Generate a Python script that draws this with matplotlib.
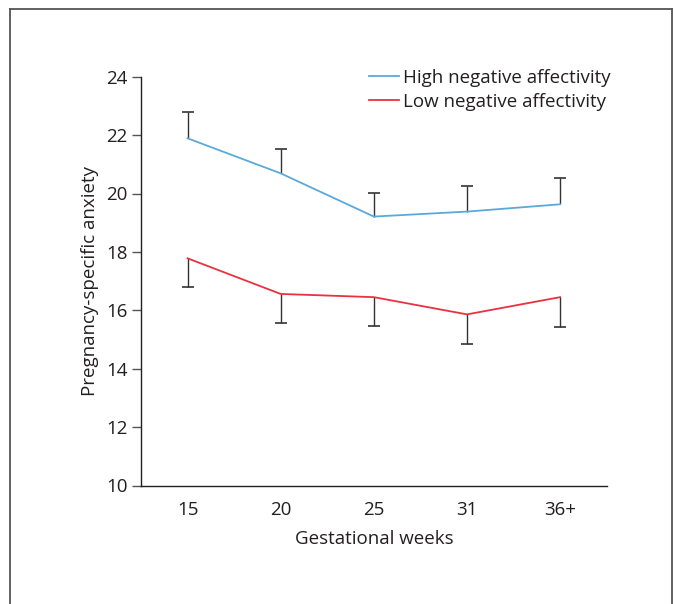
import numpy as np
import matplotlib.pyplot as plt
from matplotlib.lines import Line2D

plt.rcParams['font.family'] = ['Open Sans', 'DejaVu Sans']

weeks = ['15', '20', '25', '31', '36+']
high_na = [21.89, 20.69, 19.21, 19.38, 19.63]
high_err = [0.91, 0.84, 0.80, 0.89, 0.91]
low_na = [17.78, 16.56, 16.45, 15.86, 16.45]
low_err = [0.99, 0.99, 0.98, 1.01, 1.01]

text_col = '#231f20'
blue = '#5aa9db'
red = '#e8323f'
fs = 13.5

fig = plt.figure(figsize=(6.74, 6.04), dpi=100)
ax = fig.add_axes([141 / 674, 1 - 485.5 / 604, (606.7 - 141) / 674, (485.5 - 76.7) / 604])

x = np.arange(len(weeks))
hi = np.array(high_na)
lo = np.array(low_na)
he = np.array(high_err)
le = np.array(low_err)
zeros = np.zeros(len(weeks))

# one-sided error bars: up for high NA, down for low NA
ax.errorbar(x, hi, yerr=[zeros, he], fmt='none', ecolor='#333333', elinewidth=1.0, capsize=0, zorder=2)
ax.plot(x, hi + he, ls='none', marker='_', ms=9, mew=1.2, color='#333333', zorder=2)
ax.errorbar(x, lo, yerr=[le, zeros], fmt='none', ecolor='#333333', elinewidth=1.0, capsize=0, zorder=2)
ax.plot(x, lo - le, ls='none', marker='_', ms=9, mew=1.2, color='#333333', zorder=2)

ax.plot(x, hi, color=blue, lw=1.3, label='High negative affectivity', zorder=3)
ax.plot(x, lo, color=red, lw=1.3, label='Low negative affectivity', zorder=3)

ax.set_xlim(-0.5, 4.5)
ax.set_ylim(10, 24)
ax.set_xticks(x)
ax.set_xticklabels(weeks)
ax.set_yticks(np.arange(10, 25, 2))

for s in ['top', 'right']:
    ax.spines[s].set_visible(False)
for s in ['left', 'bottom']:
    ax.spines[s].set_color(text_col)
    ax.spines[s].set_linewidth(1.0)

ax.tick_params(axis='y', direction='out', length=6.5, width=1.0, color='#555555',
               labelsize=fs, labelcolor=text_col, pad=3)
ax.tick_params(axis='x', length=0, labelsize=fs, labelcolor=text_col, pad=11)

ax.set_xlabel('Gestational weeks', fontsize=fs, color=text_col, labelpad=8)
ax.set_ylabel('Pregnancy-specific anxiety', fontsize=fs, color=text_col, labelpad=5)

ax.legend(loc='upper left', bbox_to_anchor=(369 / 674, 1 - 69 / 604), bbox_transform=fig.transFigure,
          frameon=False, fontsize=fs, handlelength=1.6, handletextpad=0.2, borderpad=0,
          borderaxespad=0, labelspacing=0.3, labelcolor=text_col)

# open frame around the figure
frame_kw = dict(color='#555555', lw=1.3, transform=fig.transFigure)
fig.add_artist(Line2D([10 / 674, 10 / 674], [0, 1 - 9 / 604], **frame_kw))
fig.add_artist(Line2D([10 / 674, 672 / 674], [1 - 9 / 604, 1 - 9 / 604], **frame_kw))
fig.add_artist(Line2D([672 / 674, 672 / 674], [0, 1 - 9 / 604], **frame_kw))

fig.savefig('out.png', dpi=100)
